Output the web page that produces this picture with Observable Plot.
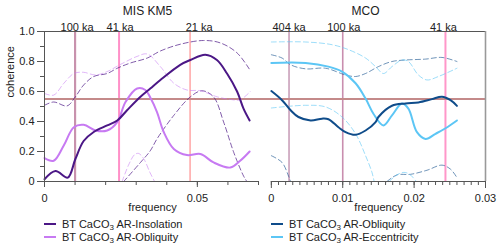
<!DOCTYPE html>
<html><head><meta charset="utf-8">
<script src="https://cdn.jsdelivr.net/npm/d3@7"></script>
<script src="https://cdn.jsdelivr.net/npm/@observablehq/plot@0.6"></script>
<style>
body{margin:0;background:#fff;font-family:"Liberation Sans",Arial,sans-serif;}
#wrap{position:relative;width:500px;height:244px;overflow:hidden;background:#fff}
#left,#right{position:absolute;top:0}
#left{left:0}
#right{left:258px}
.leg{position:absolute;font-size:11px;color:#222;line-height:12px;white-space:nowrap}
.leg .sw{display:inline-block;width:12px;height:2px;vertical-align:middle;margin-right:6px;position:relative;top:-1px}
.leg sub{font-size:8px;vertical-align:-2px;line-height:0}
</style></head>
<body>
<div id="wrap">
  <div id="left"></div>
  <div id="right"></div>
  <div id="legend"></div>
</div>
<script>
// ---------- data: [frequency, coherence] ----------
// Left panel: MIS KM5
const insolation = [[0,0.015],[0.0036,0.07],[0.0076,0.026],[0.0101,0.15],[0.0128,0.27],[0.0161,0.33],[0.0205,0.374],[0.0238,0.407],[0.027,0.475],[0.0314,0.565],[0.0346,0.62],[0.0379,0.677],[0.0444,0.778],[0.0477,0.81],[0.0526,0.845],[0.0564,0.81],[0.0597,0.72],[0.063,0.6],[0.0651,0.486],[0.0671,0.407]];
const insolUpper = [[0,0.508],[0.003,0.53],[0.0074,0.504],[0.0101,0.565],[0.0128,0.643],[0.0161,0.7],[0.0205,0.72],[0.0238,0.755],[0.0281,0.79],[0.0336,0.823],[0.0379,0.87],[0.0444,0.915],[0.052,0.94],[0.0575,0.924],[0.063,0.857],[0.0673,0.74]];
const insolLower = [[0.0259,0],[0.0314,0.127],[0.0346,0.205],[0.0368,0.284],[0.0423,0.441],[0.0477,0.564],[0.0515,0.605],[0.0553,0.564],[0.0586,0.396],[0.0619,0.194],[0.0651,0.037],[0.0662,0]];
const obliqKM5 = [[0,0.156],[0.003,0.138],[0.0063,0.24],[0.0096,0.362],[0.0128,0.378],[0.0167,0.34],[0.0205,0.34],[0.0238,0.396],[0.0265,0.53],[0.0303,0.62],[0.033,0.61],[0.0346,0.56],[0.0368,0.463],[0.039,0.33],[0.0423,0.217],[0.0466,0.176],[0.051,0.183],[0.0553,0.127],[0.0608,0.093],[0.064,0.138],[0.0671,0.2]];
const obliqKM5Upper = [[0,0.587],[0.003,0.576],[0.0063,0.654],[0.0096,0.72],[0.0128,0.728],[0.0167,0.71],[0.0205,0.733],[0.0248,0.78],[0.0303,0.834],[0.0336,0.85],[0.0379,0.766],[0.0423,0.655],[0.0466,0.61],[0.051,0.605],[0.0564,0.565],[0.0608,0.547],[0.064,0.545],[0.0673,0.6]];
const obliqKM5Lower = [[0.0254,0],[0.0275,0.11],[0.0295,0.18],[0.0308,0.187],[0.0325,0.15],[0.0345,0.06],[0.036,0]];
// Right panel: MCO
const obliqMCO = [[0,0.603],[0.0015,0.542],[0.0027,0.475],[0.0038,0.43],[0.0055,0.407],[0.0071,0.419],[0.008,0.415],[0.0094,0.362],[0.0104,0.329],[0.0118,0.311],[0.0132,0.34],[0.0146,0.396],[0.015,0.43],[0.0169,0.505],[0.0188,0.52],[0.0206,0.527],[0.0225,0.549],[0.0239,0.565],[0.0251,0.542],[0.026,0.504]];
const obliqMCOUpper = [[0,0.845],[0.0015,0.823],[0.0027,0.778],[0.0048,0.751],[0.0076,0.755],[0.0104,0.71],[0.0118,0.7],[0.0132,0.72],[0.015,0.766],[0.0169,0.8],[0.0188,0.81],[0.0216,0.816],[0.0239,0.827],[0.026,0.8]];
const obliqMCOLowerA = [[0,0.172],[0.0015,0.127],[0.0024,0.037],[0.0027,0]];
const obliqMCOLowerB = [[0.0162,0],[0.0176,0.044],[0.0195,0.048],[0.0218,0.075],[0.0239,0.109],[0.0251,0.082],[0.026,0.026]];
const ecc = [[0,0.79],[0.0048,0.79],[0.008,0.766],[0.0099,0.733],[0.0118,0.655],[0.0132,0.553],[0.0143,0.452],[0.0157,0.374],[0.0169,0.441],[0.0183,0.52],[0.0192,0.486],[0.0204,0.329],[0.0216,0.284],[0.023,0.318],[0.0244,0.355],[0.026,0.407]];
const eccUpper = [[0,0.93],[0.0048,0.93],[0.0085,0.912],[0.0108,0.879],[0.0132,0.823],[0.0146,0.766],[0.0157,0.72],[0.0169,0.766],[0.0183,0.81],[0.0192,0.8],[0.0206,0.71],[0.0218,0.677],[0.0234,0.7],[0.026,0.755]];
const eccLowerA = [[0,0.49],[0.0048,0.508],[0.0076,0.497],[0.0099,0.43],[0.0118,0.318],[0.0132,0.172],[0.0141,0.06],[0.0144,0]];
const eccLowerB = [[0.0165,0],[0.0178,0.05],[0.0188,0.06],[0.0198,0.03],[0.0203,0]];

const threshold = [0.55];
const periodsKM5 = [100, 41, 21];   // ka
const periodsMCO = [404, 100, 41];  // ka
const yMajor = [0, 0.2, 0.4, 0.6, 0.8, 1.0];
const yMinor = [0.1, 0.3, 0.5, 0.7, 0.9];
const xMajorKM5 = [0, 0.05];
const xMinorKM5 = [0, 0.01, 0.02, 0.03, 0.04, 0.05, 0.06, 0.07];
const xMajorMCO = [0, 0.01, 0.02, 0.03];
const xMinorMCO = d3.range(31).map(i => i / 1000);

// ---------- styles ----------
const C = {
  insol: "#4b1786", obliqL: "#c77af2", obliqR: "#0f4c8a", ecc: "#5cc6f5",
  axis: "#555", thr: "#c48a8a"
};
const periodStyle = {
  "L100": {stroke: "#c892ad", w: 2.2}, "L41": {stroke: "#ff90c8", w: 2}, "L21": {stroke: "#ff9f9f", w: 1.4},
  "R404": {stroke: "#a86690", w: 1}, "R100": {stroke: "#c98eaf", w: 1.6}, "R41": {stroke: "#ff97c9", w: 2}
};
const style = {fontFamily: "Liberation Sans, Arial, sans-serif", fontSize: "11px", color: "#222", background: "transparent", overflow: "visible"};
const fx = d => d[0], fy = d => d[1];
const solid = (data, stroke) => Plot.line(data, {x: fx, y: fy, stroke, strokeWidth: 2, curve: "catmull-rom"});
const dashed = (data, stroke, op) => Plot.line(data, {x: fx, y: fy, stroke, strokeWidth: 1, strokeOpacity: op, strokeDasharray: "5,3", curve: "catmull-rom"});
const fmt = d => d === 0 ? "0" : String(d);

function periodMarks(periods, side, dxs) {
  const marks = [];
  periods.forEach((p, i) => {
    const s = periodStyle[side + p];
    marks.push(Plot.ruleX([p], {x: d => 1 / d, stroke: s.stroke, strokeWidth: s.w}));
    marks.push(Plot.text([p], {x: d => 1 / d, text: d => `${d} ka`, frameAnchor: "top", dy: -8, dx: dxs[i], fontSize: 11, fill: "#222"}));
  });
  return marks;
}

const left = Plot.plot({
  width: 258, height: 215, marginLeft: 44, marginRight: 0, marginTop: 31, marginBottom: 34,
  x: {domain: [0, 0.07], axis: null}, y: {domain: [0, 1], axis: null},
  style,
  marks: [
    ...periodMarks(periodsKM5, "L", [2, 1, 9]),
    Plot.ruleY(threshold, {stroke: C.thr, strokeWidth: 2}),
    dashed(insolUpper, C.insol, 0.7),
    dashed(insolLower, C.insol, 0.7),
    dashed(obliqKM5Upper, C.obliqL, 0.55),
    dashed(obliqKM5Lower, C.obliqL, 0.55),
    solid(obliqKM5, C.obliqL),
    solid(insolation, C.insol),
    Plot.ruleY([1], {stroke: C.axis}),
    Plot.ruleY([0], {stroke: C.axis}),
    Plot.ruleX([0], {stroke: C.axis}),
    Plot.axisY(yMinor, {anchor: "left", tickSize: 4, tickFormat: () => "", label: null, stroke: C.axis}),
    Plot.axisY(yMajor, {anchor: "left", tickSize: 7, tickPadding: 3, tickFormat: d => d === 0 ? "0" : d.toFixed(1), label: null, stroke: C.axis, fill: "#222"}),
    Plot.axisX(xMinorKM5, {anchor: "bottom", tickSize: 4, tickFormat: () => "", label: null, stroke: C.axis}),
    Plot.axisX(xMajorKM5, {anchor: "bottom", tickSize: 6, tickPadding: 7, tickFormat: fmt, label: null, stroke: C.axis, fill: "#222"}),
    Plot.text(["coherence"], {frameAnchor: "left", rotate: -90, dx: -34, dy: -9, fontSize: 11, fill: "#222"}),
    Plot.text(["frequency"], {frameAnchor: "bottom", dy: 29, dx: 1, fontSize: 11, fill: "#222"}),
    Plot.text(["MIS KM5"], {frameAnchor: "top", dy: -25, dx: -4, fontSize: 12, fill: "#222"})
  ]
});

const right = Plot.plot({
  width: 242, height: 215, marginLeft: 0, marginRight: 15, marginTop: 31, marginBottom: 34,
  x: {domain: [-0.0018, 0.03], axis: null}, y: {domain: [0, 1], axis: null},
  style,
  marks: [
    ...periodMarks(periodsMCO, "R", [0, 1, -2]),
    Plot.ruleY(threshold, {stroke: C.thr, strokeWidth: 2}),
    dashed(obliqMCOUpper, C.obliqR, 0.6),
    dashed(obliqMCOLowerA, C.obliqR, 0.6),
    dashed(obliqMCOLowerB, C.obliqR, 0.6),
    dashed(eccUpper, C.ecc, 0.6),
    dashed(eccLowerA, C.ecc, 0.6),
    dashed(eccLowerB, C.ecc, 0.6),
    solid(ecc, C.ecc),
    solid(obliqMCO, C.obliqR),
    Plot.ruleY([1], {stroke: C.axis}),
    Plot.ruleY([0], {x1: 0, x2: 0.03, stroke: C.axis}),
    Plot.ruleX([0.03], {stroke: "#999", strokeWidth: 1.6}),
    Plot.axisX(xMinorMCO, {anchor: "bottom", tickSize: 4, tickFormat: () => "", label: null, stroke: C.axis}),
    Plot.axisX(xMajorMCO, {anchor: "bottom", tickSize: 7, tickPadding: 6, tickFormat: fmt, label: null, stroke: C.axis, fill: "#222"}),
    Plot.text(["frequency"], {frameAnchor: "bottom", dy: 29, dx: 6.5, fontSize: 11, fill: "#222"}),
    Plot.text(["MCO"], {frameAnchor: "top", dy: -25, dx: -6.5, fontSize: 12, fill: "#222"})
  ]
});

document.getElementById("left").appendChild(left);
document.getElementById("right").appendChild(right);

// ---------- legend ----------
const legendItems = [
  {label: "AR-Insolation", color: C.insol, x: 44, y: 218},
  {label: "AR-Obliquity", color: C.obliqL, x: 44, y: 231},
  {label: "AR-Obliquity", color: C.obliqR, x: 271, y: 218},
  {label: "AR-Eccentricity", color: C.ecc, x: 271, y: 231}
];
const leg = document.getElementById("legend");
legendItems.forEach(it => {
  const d = document.createElement("div");
  d.className = "leg";
  d.style.left = it.x + "px";
  d.style.top = it.y + "px";
  d.innerHTML = `<span class="sw" style="background:${it.color}"></span>BT CaCO<sub>3</sub> ${it.label}`;
  leg.appendChild(d);
});
</script>
</body></html>
